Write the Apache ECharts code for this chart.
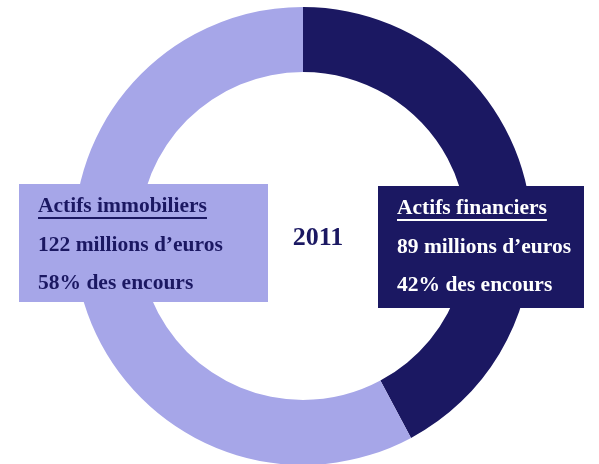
<!DOCTYPE html>
<html>
<head>
<meta charset="utf-8">
<script src="https://cdn.jsdelivr.net/npm/echarts@6/dist/echarts.min.js"></script>
<style>
  html, body { margin: 0; padding: 0; background: #fff; }
  #chart { width: 599px; height: 464px; }
</style>
</head>
<body>
<div id="chart"></div>
<script>
    // Données (répartition des encours 2011)
    const year = '2011';
    const categories = ['Actifs financiers', 'Actifs immobiliers'];
    const amounts = [89, 122]; // millions d'euros
    const shares = [42, 58];   // % des encours
    const colors = ['#1b1862', '#a6a6e8'];

    const serif = '"Liberation Serif", "DejaVu Serif", serif';
    const fontSize = 21.5;
    const Z = 100;

    const measure = (txt) => {
        const ctx = document.createElement('canvas').getContext('2d');
        ctx.font = `bold ${fontSize}px ${serif}`;
        return ctx.measureText(txt).width;
    };

    // one boxed annotation per category
    const makeBox = (i, box, tx, ys, textColor) => {
        const lines = [
            categories[i],
            `${amounts[i]} millions d\u2019euros`,
            `${shares[i]}% des encours`
        ];
        const els = [{
            type: 'rect',
            z: Z,
            shape: { x: box[0], y: box[1], width: box[2], height: box[3] },
            style: { fill: colors[i] }
        }];
        lines.forEach((l, k) => {
            els.push({
                type: 'text',
                z: Z + 1,
                x: tx, y: ys[k],
                style: {
                    text: l, fill: textColor,
                    font: `bold ${fontSize}px ${serif}`,
                    verticalAlign: 'middle'
                }
            });
        });
        els.push({
            type: 'line',
            z: Z + 1,
            shape: { x1: tx, y1: ys[0] + 12, x2: tx + measure(lines[0]), y2: ys[0] + 12 },
            style: { stroke: textColor, lineWidth: 2 }
        });
        return els;
    };

    const chart = echarts.init(document.getElementById('chart'));
    chart.setOption({
        animation: false,
        series: [{
            type: 'pie',
            radius: [164, 229],
            center: [303, 236],
            startAngle: 90,
            clockwise: true,
            silent: true,
            z: 1,
            label: { show: false },
            labelLine: { show: false },
            data: categories.map((c, i) => ({
                name: c,
                value: amounts[i],
                itemStyle: { color: colors[i] }
            }))
        }],
        graphic: [
            ...makeBox(1, [19, 184, 249, 118], 38, [206, 245, 283], '#1b1862'),
            ...makeBox(0, [378, 186, 206, 122], 397, [208, 247, 285], '#ffffff'),
            {
                type: 'text',
                z: Z,
                x: 318, y: 238,
                style: {
                    text: year, fill: '#1b1862',
                    font: `bold 26px ${serif}`,
                    align: 'center', verticalAlign: 'middle'
                }
            }
        ]
    });
</script>
</body>
</html>
